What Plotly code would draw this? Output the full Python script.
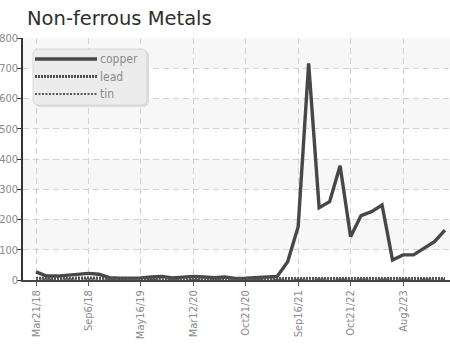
import plotly.graph_objects as go

# Sampling dates (category axis) and metal series
dates = [
    "Mar21/18", "Apr12/18", "May17/18", "Jun21/18", "Jul26/18",
    "Sep6/18", "Oct18/18", "Dec13/18", "Jan24/19", "Mar28/19",
    "May16/19", "Jul11/19", "Sep12/19", "Nov14/19", "Jan16/20",
    "Mar12/20", "Apr23/20", "Jun4/20", "Jul23/20", "Sep3/20",
    "Oct21/20", "Dec17/20", "Feb25/21", "Apr22/21", "Jun24/21",
    "Sep16/21", "Nov25/21", "Feb10/22", "Apr21/22", "Jul14/22",
    "Oct21/22", "Dec15/22", "Feb23/23", "Apr27/23", "Jun8/23",
    "Aug2/23", "Sep28/23", "Nov23/23", "Jan25/24", "Mar21/24",
]
copper = [
    27, 13, 13, 16, 18, 22, 19, 8, 6, 6,
    7, 10, 12, 7, 10, 12, 10, 8, 10, 5,
    6, 8, 10, 12, 60, 176, 716, 239, 259, 378,
    143, 213, 226, 248, 66, 83, 83, 105, 127, 165,
]
lead = [
    6, 5, 5, 6, 7, 8, 7, 5, 4, 4,
    4, 5, 5, 4, 5, 5, 4, 4, 5, 4,
    4, 4, 5, 5, 5, 6, 6, 5, 5, 5,
    5, 5, 5, 6, 5, 5, 5, 5, 5, 5,
]
tin = [
    3, 2, 2, 3, 3, 4, 3, 2, 1, 1,
    1, 2, 2, 1, 2, 2, 1, 1, 2, 1,
    1, 1, 2, 2, 2, 2, 2, 2, 2, 2,
    2, 2, 2, 2, 2, 2, 2, 2, 2, 2,
]
y_ticks = [0, 100, 200, 300, 400, 500, 600, 700, 800]
shaded_bands = [(100, 200), (300, 400), (500, 600), (700, 800)]

LINE = "#474747"
TEXT = "#8a8a8a"
NARROW = ("Liberation Sans Narrow, Arial Narrow, DejaVu Sans Condensed, "
          "Noto Sans Condensed, Roboto Condensed, sans-serif")

series = [
    ("copper", copper, dict(color=LINE, width=3.4)),
    ("lead", lead, dict(color="#505050", width=3, dash="2px,1px")),
    ("tin", tin, dict(color="#5a5a5a", width=1.8, dash="2px,1.5px")),
]

fig = go.Figure()
for name, vals, line in series:
    fig.add_trace(go.Scatter(x=dates, y=vals, name=name, mode="lines",
                             line=line, showlegend=False))

# alternating horizontal bands behind the data
shapes = []
for lo, hi in shaded_bands:
    shapes.append(dict(type="rect", xref="paper", yref="y", x0=0, x1=1,
                       y0=lo, y1=hi, fillcolor="#f7f7f7", line_width=0,
                       layer="below"))

# hand-built legend box with rounded corners
W, H = 427.0, 242.0
def px(x):
    return (x - 23) / W
def py(y):
    return (280 - y) / H

# soft drop shadow, then the box itself
for off, fill, edge in [(1.5, "#dcdcdc", "#dcdcdc"), (0, "#ececec", "#d6d6d6")]:
    x0, x1 = px(33 + off), px(147 + off)
    y0, y1 = py(105 + off), py(49 + off)
    rx, ry = 6 / W, 6 / H
    path = (f"M{x0+rx},{y1} L{x1-rx},{y1} Q{x1},{y1} {x1},{y1-ry} "
            f"L{x1},{y0+ry} Q{x1},{y0} {x1-rx},{y0} L{x0+rx},{y0} "
            f"Q{x0},{y0} {x0},{y0+ry} L{x0},{y1-ry} Q{x0},{y1} {x0+rx},{y1} Z")
    shapes.append(dict(type="path", xref="paper", yref="paper", path=path,
                       fillcolor=fill, line=dict(color=edge, width=1),
                       layer="above"))

annotations = []
for i, (name, vals, line) in enumerate(series):
    yy = py(59 + i * 17.5)
    shapes.append(dict(type="line", xref="paper", yref="paper",
                       x0=px(35), x1=px(97), y0=yy, y1=yy, line=line,
                       layer="above"))
    annotations.append(dict(text=name, xref="paper", yref="paper",
                            x=px(98), y=yy, xanchor="left", yanchor="middle",
                            showarrow=False,
                            font=dict(family=NARROW, size=12, color=TEXT)))

annotations.append(dict(text="Non-ferrous Metals", xref="paper",
                        yref="paper", x=px(25), y=py(18), xanchor="left",
                        yanchor="middle", showarrow=False,
                        font=dict(family="DejaVu Sans", size=19.5,
                                  color="#2e2e2e")))

fig.update_layout(
    width=450, height=344,
    margin=dict(l=23, r=0, t=38, b=64, pad=0),
    paper_bgcolor="white", plot_bgcolor="white",
    shapes=shapes, annotations=annotations,
    xaxis=dict(
        type="category", range=[-1.24, 39.48],
        tickvals=dates[::5], ticktext=dates[::5], tickangle=-90,
        tickfont=dict(family=NARROW, size=11, color=TEXT),
        ticks="outside", ticklen=4, tickcolor="#555",
        showline=True, linecolor="#444", linewidth=1.5,
        showgrid=True, gridcolor="#d2d2d2", griddash="6px,4px", gridwidth=1,
        zeroline=False, automargin=False,
    ),
    yaxis=dict(
        range=[0, 800], tickvals=y_ticks,
        tickfont=dict(family=NARROW, size=11, color=TEXT),
        ticks="outside", ticklen=4, tickcolor="#333",
        ticklabelstandoff=-3,
        showline=True, linecolor="#333", linewidth=1.5,
        showgrid=True, gridcolor="#d2d2d2", griddash="6px,4px", gridwidth=1,
        zeroline=False, automargin=False,
    ),
)

fig.write_html("out.html")
